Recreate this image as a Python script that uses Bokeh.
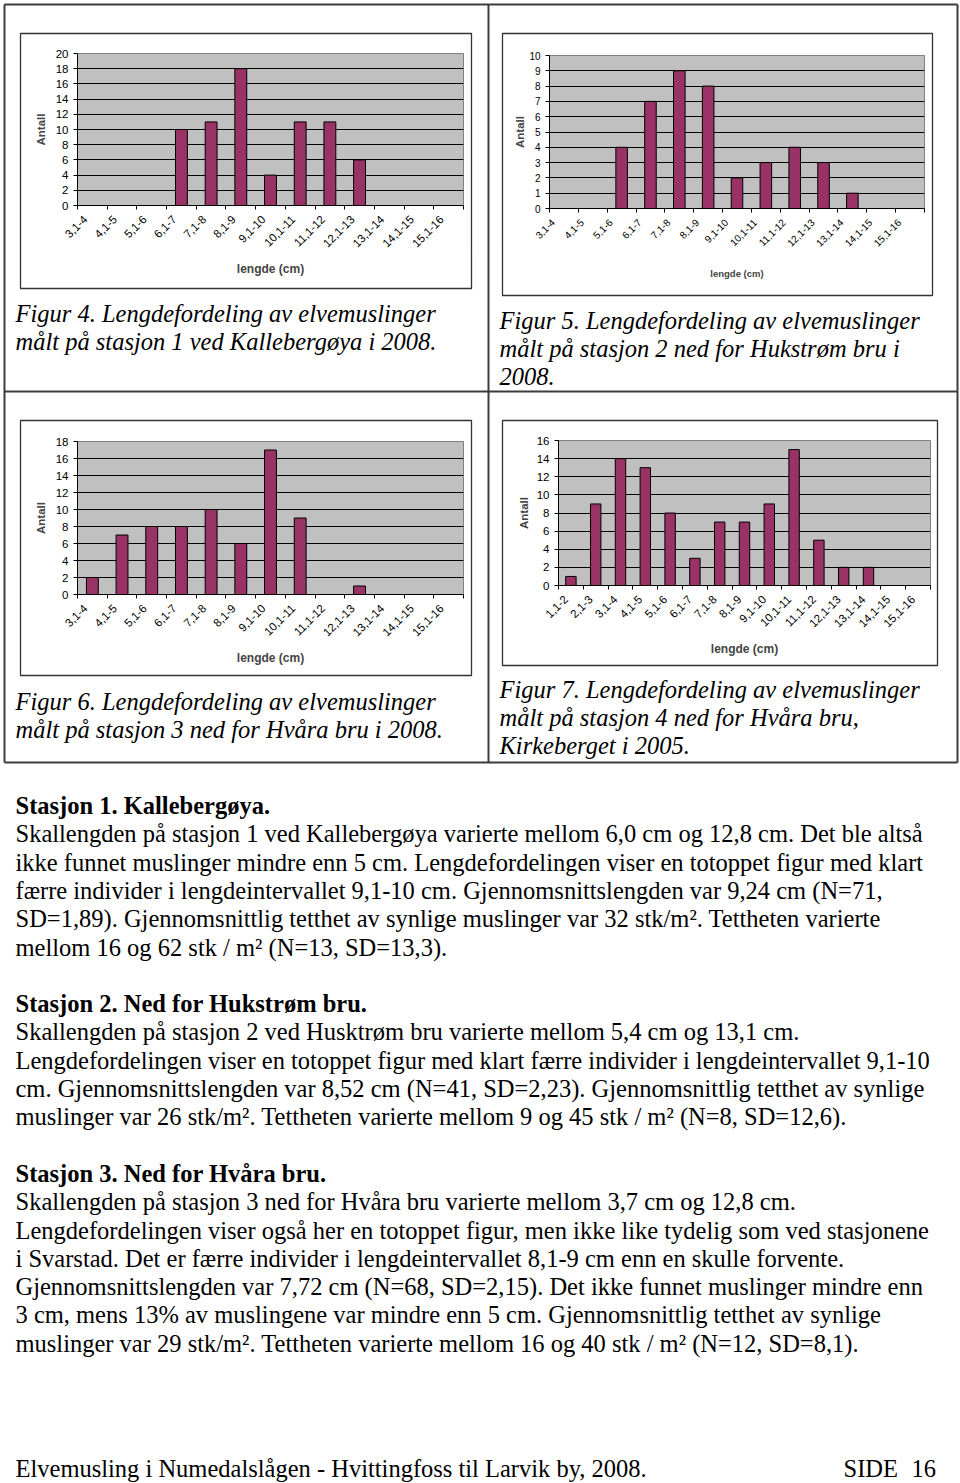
import math
from bokeh.plotting import figure
from bokeh.models import Range1d, FixedTicker, ColumnDataSource, GridBox
from bokeh.layouts import column
from bokeh.embed import file_html
from bokeh.resources import INLINE
from bokeh.core.properties import value

# ---------------- data ----------------
cats_3_16 = ["3,1-4", "4,1-5", "5,1-6", "6,1-7", "7,1-8", "8,1-9", "9,1-10",
             "10,1-11", "11,1-12", "12,1-13", "13,1-14", "14,1-15", "15,1-16"]
cats_1_16 = ["1,1-2", "2,1-3"] + cats_3_16

counts_st1 = [0, 0, 0, 10, 11, 18, 4, 11, 11, 6, 0, 0, 0]
counts_st2 = [0, 0, 4, 7, 9, 8, 2, 3, 4, 3, 1, 0, 0]
counts_st3 = [2, 7, 8, 8, 10, 6, 17, 9, 0, 1, 0, 0, 0]
counts_st4 = [1, 9, 14, 13, 8, 3, 7, 7, 9, 15, 5, 2, 2, 0, 0]

yticks_st1 = [0, 2, 4, 6, 8, 10, 12, 14, 16, 18, 20]
yticks_st2 = [0, 1, 2, 3, 4, 5, 6, 7, 8, 9, 10]
yticks_st3 = [0, 2, 4, 6, 8, 10, 12, 14, 16, 18]
yticks_st4 = [0, 2, 4, 6, 8, 10, 12, 14, 16]

x_title = "lengde (cm)"
y_title = "Antall"

caption_fig4 = ["Figur 4. Lengdefordeling av elvemuslinger",
                "målt på stasjon 1 ved Kallebergøya i 2008."]
caption_fig5 = ["Figur 5. Lengdefordeling av elvemuslinger",
                "målt på stasjon 2 ned for Hukstrøm bru i",
                "2008."]
caption_fig6 = ["Figur 6. Lengdefordeling av elvemuslinger",
                "målt på stasjon 3 ned for Hvåra bru i 2008."]
caption_fig7 = ["Figur 7. Lengdefordeling av elvemuslinger",
                "målt på stasjon 4 ned for Hvåra bru,",
                "Kirkeberget i 2005."]

section1_head = "Stasjon 1. Kallebergøya."
section1_lines = [
    "Skallengden på stasjon 1 ved Kallebergøya varierte mellom 6,0 cm og 12,8 cm. Det ble altså",
    "ikke funnet muslinger mindre enn 5 cm. Lengdefordelingen viser en totoppet figur med klart",
    "færre individer i lengdeintervallet 9,1-10 cm. Gjennomsnittslengden var 9,24 cm (N=71,",
    "SD=1,89). Gjennomsnittlig tetthet av synlige muslinger var 32 stk/m². Tettheten varierte",
    "mellom 16 og 62 stk / m² (N=13, SD=13,3).",
]
section2_head = "Stasjon 2. Ned for Hukstrøm bru."
section2_lines = [
    "Skallengden på stasjon 2 ved Husktrøm bru varierte mellom 5,4 cm og 13,1 cm.",
    "Lengdefordelingen viser en totoppet figur med klart færre individer i lengdeintervallet 9,1-10",
    "cm. Gjennomsnittslengden var 8,52 cm (N=41, SD=2,23). Gjennomsnittlig tetthet av synlige",
    "muslinger var 26 stk/m². Tettheten varierte mellom 9 og 45 stk / m² (N=8, SD=12,6).",
]
section3_head = "Stasjon 3. Ned for Hvåra bru."
section3_lines = [
    "Skallengden på stasjon 3 ned for Hvåra bru varierte mellom 3,7 cm og 12,8 cm.",
    "Lengdefordelingen viser også her en totoppet figur, men ikke like tydelig som ved stasjonene",
    "i Svarstad. Det er færre individer i lengdeintervallet 8,1-9 cm enn en skulle forvente.",
    "Gjennomsnittslengden var 7,72 cm (N=68, SD=2,15). Det ikke funnet muslinger mindre enn",
    "3 cm, mens 13% av muslingene var mindre enn 5 cm. Gjennomsnittlig tetthet av synlige",
    "muslinger var 29 stk/m². Tettheten varierte mellom 16 og 40 stk / m² (N=12, SD=8,1).",
]
footer_left = "Elvemusling i Numedalslågen - Hvittingfoss til Larvik by, 2008."
footer_side = "SIDE"
footer_page = "16"

# ---------------- style / layout constants ----------------
SANS = "Liberation Sans"
SERIF = "Liberation Serif"
BAR = "#993366"
PLOT_BG = "#C0C0C0"
TABLE = "#3c3c3c"
BOX = "#333333"
BODY_FS = "24.5px"
PAGE_W = 960
PAGE_H = 1483
TEXT_FIX = -8   # baseline correction for text glyphs


def make_chart(frame, cats, counts, yticks, tick_fs, xt_fs, yt_fs, bar_w,
               label_shift_px, xlab_standoff, ylab_standoff):
    fl, ft, fr, fb = frame
    p = figure(width=PAGE_W, height=PAGE_H, output_backend="svg", toolbar_location=None,
               title=None, x_range=Range1d(0, len(cats)), y_range=Range1d(0, yticks[-1]),
               min_border_left=fl, min_border_right=PAGE_W - fr,
               min_border_top=ft, min_border_bottom=PAGE_H - fb)
    p.background_fill_color = PLOT_BG
    p.border_fill_color = None
    p.border_fill_alpha = 0
    p.outline_line_color = "#808080"

    centers = [i + 0.5 for i in range(len(cats))]
    src = ColumnDataSource(dict(x=centers, top=counts, cat=cats))
    p.vbar(x="x", top="top", width=bar_w, bottom=0, source=src,
           fill_color=BAR, line_color="black", line_width=1)

    cat_px = (fr - fl) / len(cats)
    label_pos = [c + label_shift_px / cat_px for c in centers]
    xa = p.xaxis[0]
    xa.ticker = FixedTicker(ticks=label_pos, minor_ticks=list(range(len(cats) + 1)))
    xa.major_label_overrides = {c: t for c, t in zip(label_pos, cats)}
    xa.major_tick_line_color = None
    xa.major_tick_out = 0
    xa.major_tick_in = 0
    xa.minor_tick_out = 4
    xa.minor_tick_in = 0
    xa.minor_tick_line_color = "black"
    xa.axis_line_color = "black"
    xa.major_label_orientation = math.pi / 4
    xa.major_label_standoff = 8
    xa.major_label_text_font = SANS
    xa.major_label_text_font_size = tick_fs
    xa.major_label_text_color = "black"
    xa.axis_label = x_title
    xa.axis_label_text_font = SANS
    xa.axis_label_text_font_style = "bold"
    xa.axis_label_text_font_size = xt_fs
    xa.axis_label_standoff = xlab_standoff

    ya = p.yaxis[0]
    ya.ticker = FixedTicker(ticks=yticks)
    ya.major_tick_out = 4
    ya.major_tick_in = 0
    ya.minor_tick_line_color = None
    ya.axis_line_color = "black"
    ya.major_label_standoff = 5
    ya.major_label_text_font = SANS
    ya.major_label_text_font_size = tick_fs
    ya.major_label_text_color = "black"
    ya.axis_label = y_title
    ya.axis_label_text_font = SANS
    ya.axis_label_text_font_style = "bold"
    ya.axis_label_text_font_size = yt_fs
    ya.axis_label_standoff = ylab_standoff

    p.xgrid.visible = False
    p.ygrid[0].ticker = FixedTicker(ticks=yticks)
    p.ygrid.grid_line_color = "black"
    p.ygrid.grid_line_width = 1
    return p


c1 = make_chart((77, 53, 463, 205), cats_3_16, counts_st1, yticks_st1,
                "11.5px", "12px", "11.5px", 0.4, -7, 8, 6)
c2 = make_chart((549, 55, 924, 208), cats_3_16, counts_st2, yticks_st2,
                "10px", "9.5px", "11.5px", 0.4, -11, 15, 0)
c3 = make_chart((77, 441, 463, 594), cats_3_16, counts_st3, yticks_st3,
                "11.5px", "12px", "11.5px", 0.4, -7, 8, 6)
c4 = make_chart((558, 440, 930, 585), cats_1_16, counts_st4, yticks_st4,
                "11.5px", "12px", "11.5px", 0.42, -5, 8, 4)

# ---------------- page background: table, boxes, captions, text ----------------
bg = figure(width=PAGE_W, height=PAGE_H, output_backend="svg", toolbar_location=None,
            title=None, x_range=Range1d(0, PAGE_W), y_range=Range1d(PAGE_H, 0),
            x_axis_location=None, y_axis_location=None,
            min_border=0, min_border_left=0, min_border_right=0,
            min_border_top=0, min_border_bottom=0)
bg.xgrid.visible = False
bg.ygrid.visible = False
bg.outline_line_color = None
bg.background_fill_color = "white"
bg.border_fill_color = "white"

# table grid
bg.segment(x0=[4, 957, 488, 4, 4, 4], y0=[4, 4, 4, 4, 391, 762],
           x1=[4, 957, 488, 957, 957, 957], y1=[762, 762, 762, 4, 391, 762],
           line_color=TABLE, line_width=2)
# chart boxes
bg.quad(left=[20, 502, 20, 502], right=[471, 932, 471, 937],
        top=[33, 33, 420, 420], bottom=[288, 295, 675, 665],
        fill_color=None, line_color=BOX, line_width=1.3)

# captions
cap = {"x": [], "y": [], "t": []}
for cx, cy0, lines in ((15, 321, caption_fig4), (499, 328, caption_fig5),
                       (15, 709, caption_fig6), (499, 697, caption_fig7)):
    for i, t in enumerate(lines):
        cap["x"].append(cx); cap["y"].append(cy0 + i * 28.2 + TEXT_FIX); cap["t"].append(t)
bg.text(x="x", y="y", text="t", source=ColumnDataSource(cap), text_font=value(SERIF),
        text_font_style="italic", text_font_size=value(BODY_FS), text_baseline="alphabetic",
        text_align="left", text_color="black")

LINE_H = 28.3
BASE0 = 813
heads = {"x": [], "y": [], "t": []}
body = {"x": [], "y": [], "t": []}
k = 0
for head, lines in ((section1_head, section1_lines), (section2_head, section2_lines),
                    (section3_head, section3_lines)):
    heads["x"].append(15); heads["y"].append(BASE0 + k * LINE_H + TEXT_FIX); heads["t"].append(head)
    k += 1
    for ln in lines:
        body["x"].append(15); body["y"].append(BASE0 + k * LINE_H + TEXT_FIX); body["t"].append(ln)
        k += 1
    k += 1

body["x"] += [15, 843, 911]
body["y"] += [1476 + TEXT_FIX] * 3
body["t"] += [footer_left, footer_side, footer_page]

bg.text(x="x", y="y", text="t", source=ColumnDataSource(heads), text_font=value(SERIF),
        text_font_style="bold", text_font_size=value(BODY_FS), text_baseline="alphabetic",
        text_align="left", text_color="black")
bg.text(x="x", y="y", text="t", source=ColumnDataSource(body), text_font=value(SERIF),
        text_font_size=value(BODY_FS), text_baseline="alphabetic",
        text_align="left", text_color="black")

layout = GridBox(children=[(column(bg), 0, 0), (column(c1), 0, 0), (column(c2), 0, 0),
                           (column(c3), 0, 0), (column(c4), 0, 0)])

open("out.html", "w").write(file_html(layout, INLINE))
